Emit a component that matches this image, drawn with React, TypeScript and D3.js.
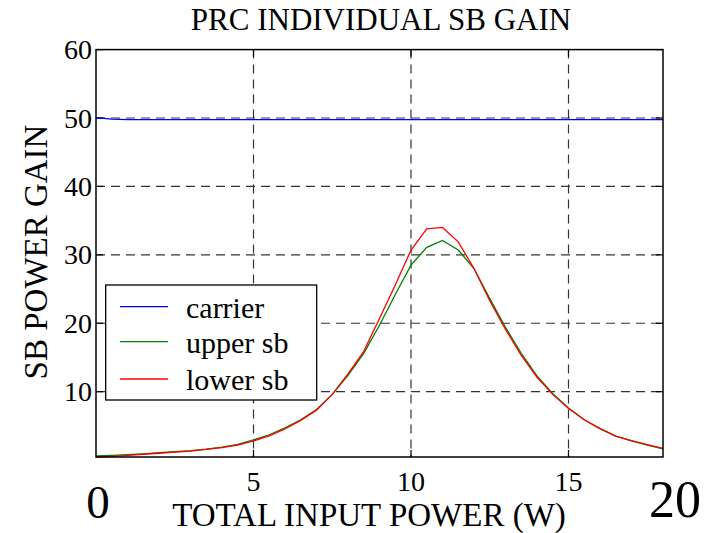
import React from "react";
import * as d3 from "d3";

const xValues = [0,0.5,1,1.5,2,2.5,3,3.5,4,4.5,5,5.5,6,6.5,7,7.5,8,8.5,9,9.5,10,10.5,11,11.5,12,12.5,13,13.5,14,14.5,15,15.5,16,16.5,17,17.5,18];
const carrier = [50.05,49.85,49.75,49.75,49.75,49.75,49.75,49.75,49.75,49.75,49.75,49.75,49.75,49.75,49.75,49.75,49.75,49.75,49.75,49.75,49.75,49.75,49.75,49.75,49.75,49.75,49.75,49.75,49.75,49.75,49.75,49.75,49.75,49.75,49.75,49.75,49.75];
const upperSb = [0.62,0.68,0.78,0.92,1.08,1.22,1.38,1.6,1.88,2.3,2.95,3.7,4.7,5.9,7.4,9.6,12.4,15.6,19.7,24.2,28.5,31.1,32.1,30.7,28.0,23.6,19.4,15.6,12.3,9.7,7.6,5.9,4.6,3.5,2.8,2.2,1.65];
const lowerSb = [0.45,0.55,0.7,0.85,1.0,1.15,1.32,1.55,1.82,2.2,2.8,3.55,4.55,5.8,7.3,9.6,12.6,15.9,20.7,25.6,30.7,33.8,34.0,31.9,28.0,23.3,19.1,15.3,12.1,9.6,7.55,5.9,4.6,3.5,2.85,2.25,1.7];
const xTicks = [5, 10, 15];
const yTicks = [10, 20, 30, 40, 50, 60];
const xDomain = [0, 18];
const yDomain = [0.45, 60];
const seriesNames = ["carrier", "upper sb", "lower sb"];
const seriesColors = ["#0000ff", "#008000", "#ff0000"];

export default function App() {
  const left = 96, right = 663, top = 49.6, bottom = 457;
  const x = d3.scaleLinear().domain(xDomain).range([left, right]);
  const y = d3.scaleLinear().domain(yDomain).range([bottom, top]);
  const line = d3.line<number>().x((_, i) => x(xValues[i])).y((d) => y(d));
  const series = [carrier, upperSb, lowerSb];
  const font = "'Liberation Serif', 'Times New Roman', serif";
  const gridStyle = { stroke: "#333", strokeWidth: 1.2, strokeDasharray: "9,6" };
  const tickLen = 7;

  return (
    <svg width={705} height={533} style={{ position: "absolute", left: 0, top: 0, background: "#fff" }} fontFamily={font}>
      <rect x={0} y={0} width={705} height={533} fill="#fff" />
      {/* grid */}
      {xTicks.map((t) => (
        <line key={"gx" + t} x1={x(t)} x2={x(t)} y1={top} y2={bottom} {...gridStyle} />
      ))}
      {yTicks.filter((t) => t < 60).map((t) => (
        <line key={"gy" + t} x1={left} x2={right} y1={y(t)} y2={y(t)} {...gridStyle} />
      ))}
      {/* ticks */}
      {xTicks.map((t) => (
        <g key={"tx" + t}>
          <line x1={x(t)} x2={x(t)} y1={bottom} y2={bottom - tickLen} stroke="#000" strokeWidth={1.2} />
          <line x1={x(t)} x2={x(t)} y1={top} y2={top + tickLen} stroke="#000" strokeWidth={1.2} />
          <text x={x(t)} y={491} textAnchor="middle" fontSize={28} fill="#000">{t}</text>
        </g>
      ))}
      {yTicks.map((t) => (
        <g key={"ty" + t}>
          <line x1={left} x2={left + tickLen} y1={y(t)} y2={y(t)} stroke="#000" strokeWidth={1.2} />
          <line x1={right} x2={right - tickLen} y1={y(t)} y2={y(t)} stroke="#000" strokeWidth={1.2} />
          <text x={92} y={y(t) + 9.5} textAnchor="end" fontSize={28} fill="#000">{t}</text>
        </g>
      ))}
      {/* series */}
      {series.map((s, i) => (
        <path key={"s" + i} d={line(s) || ""} fill="none" stroke={seriesColors[i]} strokeWidth={1.3} />
      ))}
      {/* frame */}
      <rect x={left} y={top} width={right - left} height={bottom - top} fill="none" stroke="#000" strokeWidth={1.5} />
      {/* legend */}
      <rect x={105.7} y={285} width={211} height={115} fill="#fff" stroke="#000" strokeWidth={1.3} />
      {seriesNames.map((n, i) => {
        const ly = [306.7, 341.7, 379][i];
        return (
          <g key={"l" + i}>
            <line x1={120} x2={168} y1={ly} y2={ly} stroke={seriesColors[i]} strokeWidth={1.3} />
            <text x={186} y={ly + 11} fontSize={30} fill="#000">{n}</text>
          </g>
        );
      })}
      {/* titles */}
      <text x={381} y={30} textAnchor="middle" fontSize={31} fill="#000">PRC INDIVIDUAL SB GAIN</text>
      <text x={369} y={526} textAnchor="middle" fontSize={33} fill="#000">TOTAL INPUT POWER (W)</text>
      <text transform="translate(47,252) rotate(-90)" textAnchor="middle" fontSize={33} fill="#000">SB POWER GAIN</text>
      <text x={98} y={518} textAnchor="middle" fontSize={47} fill="#000">0</text>
      <text x={675} y={517} textAnchor="middle" fontSize={52} fill="#000">20</text>
    </svg>
  );
}
